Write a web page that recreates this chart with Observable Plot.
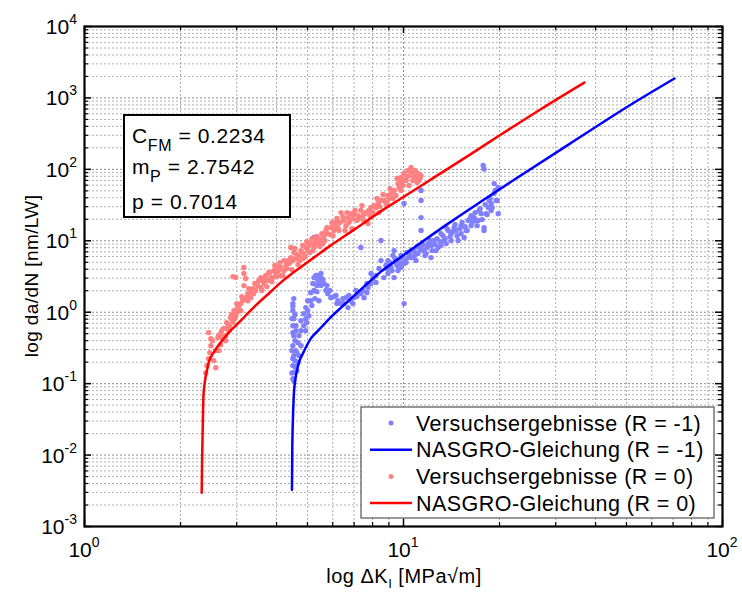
<!DOCTYPE html>
<html><head><meta charset="utf-8">
<script src="https://cdn.jsdelivr.net/npm/d3@7"></script>
<script src="https://cdn.jsdelivr.net/npm/@observablehq/plot@0.6"></script>
<style>body{margin:0;background:#fff;} svg{display:block}</style>
</head><body><div id="chart"></div>
<script>
// ---- tick labels ----
const xTickValues = [1, 10, 100];
const xTickExponents = ["0", "1", "2"];
const yTickValues = [1e-3, 1e-2, 1e-1, 1, 10, 100, 1000, 10000];
const yTickExponents = ["-3", "-2", "-1", "0", "1", "2", "3", "4"];
const minorMultipliers = [2, 3, 4, 5, 6, 7, 8, 9];

// ---- legend / annotation text ----
const legendLabels = ["Versuchsergebnisse (R = -1)", "NASGRO-Gleichung (R = -1)", "Versuchsergebnisse (R = 0)", "NASGRO-Gleichung (R = 0)"];
const paramNames = ["C", "m", "p"];
const paramSubs = ["FM", "P", ""];
const paramValues = ["0.2234", "2.7542", "0.7014"];

// ---- test results R = 0 (red) ----
const redX = [2.40,2.42,2.45,2.47,2.49,2.52,2.45,2.49,2.54,2.58,
  2.62,2.64,2.67,2.67,2.73,2.77,2.81,2.83,2.87,2.92,
  2.94,2.98,3.02,3.09,3.09,3.16,3.16,3.20,3.16,3.25,
  3.25,3.32,3.39,3.44,3.49,3.57,3.57,3.65,3.70,3.75,
  3.84,3.92,3.98,4.04,4.12,4.12,4.22,4.22,4.28,4.34,
  4.43,4.43,4.53,4.60,4.67,4.77,4.87,4.94,5.01,5.12,
  5.24,5.31,5.39,5.51,5.63,5.79,5.92,6.05,6.23,6.37,
  6.50,6.60,6.70,6.84,6.99,7.20,7.35,7.52,7.74,7.91,
  8.08,8.32,8.50,8.68,8.94,9.14,9.34,9.47,9.61,9.82,
  9.82,10.04,10.19,10.33,10.56,10.79,10.95,11.10,11.35,2.98,
  2.92,2.77,2.58,2.71,2.79,2.89,3.00,3.05,3.13,3.23,
  3.30,3.37,3.47,3.62,3.78,3.89,4.06,4.37,4.50,4.70,
  4.84,5.05,5.20,5.43,5.59,5.71,6.01,6.14,6.27,6.74,
  6.94,7.14,7.46,7.62,7.79,8.20,8.38,8.81,9.00,9.68,9.96,10.48,10.7,11.19];
const redY = [0.141,0.179,0.224,0.272,0.340,0.400,0.518,0.427,0.210,0.167,
  0.441,0.290,0.351,0.501,0.594,0.470,0.692,0.552,0.840,0.715,
  1.05,0.895,1.16,1.32,1.05,4.22,3.48,2.96,2.36,1.82,
  1.45,1.60,1.82,2.01,2.36,3.05,2.21,2.52,3.26,2.77,
  3.05,3.83,3.48,4.22,4.22,3.26,5.28,3.83,4.50,5.28,
  5.82,8.04,6.84,5.63,4.65,7.29,6.62,8.04,7.29,9.14,
  8.04,10.1,9.14,10.1,11.8,12.6,15.3,13.9,15.3,24.8,
  19.2,16.3,21.1,24.0,24.0,22.5,26.5,19.2,17.4,29.2,
  31.1,33.2,36.6,36.6,43.0,45.8,50.5,43.0,63.2,76.8,
  50.5,87.3,69.7,96.2,106,81.8,76.8,87.3,81.8,3.05,
  3.15,0.400,0.290,0.427,0.594,0.813,0.990,1.24,1.45,1.64,
  2.01,2.14,2.52,2.77,3.59,3.05,3.83,4.80,5.28,6.21,
  5.63,8.57,7.29,10.8,9.14,13.9,11.8,18.0,13.9,18.0,
  20.5,19.2,22.5,24.8,26.5,29.2,24.8,33.2,39.0,55.6,59.3,81.8,69.7,69.7];
const redBandX = [2.634,2.692,2.752,2.791,2.853,2.894,2.958,3.001,3.045,3.112,
  3.180,3.273,3.345,3.419,3.519,3.596,3.675,3.728,3.810,3.866,
  3.951,4.009,4.097,4.187,4.309,4.403,4.467,4.565,4.632,4.732,
  4.836,4.906,4.977,5.087,5.161,5.275,5.352,5.469,5.549,5.670,
  5.753,5.879,5.965,6.096,6.185,6.320,6.457,6.552,6.648,6.792,
  6.892,7.043,7.250,7.408,7.570,7.850,8.021,8.257,8.438,8.623,
  8.877,9.072,9.270,9.541,9.750,9.964,10.26,10.40,10.63,10.87,11.03,11.27];
const redBandY = [0.470,0.552,0.455,0.715,0.629,0.926,0.814,1.32,1.05,1.654,
  1.502,2.14,1.88,2.52,2.77,2.01,2.96,2.28,3.59,2.68,
  4.50,3.15,4.95,3.26,4.08,4.95,3.95,7.78,6.41,5.28,
  8.57,6.01,9.74,6.84,10.7,8.85,11.5,8.30,12.6,10.1,
  15.3,12.2,18.0,15.8,20.5,18.0,21.8,13.9,24.8,19.2,
  14.8,26.5,20.5,31.1,24.0,22.5,24.8,39.0,30.1,44.4,
  34.3,53.8,39.0,74.3,65.3,71.9,79.3,59.3,90.2,96.2,65.3,74.3];

// ---- test results R = -1 (blue) ----
const blueX = [4.50,4.53,4.50,4.57,4.53,4.60,4.50,4.57,4.53,4.60,
  4.50,4.53,4.50,4.50,4.53,4.63,4.67,4.63,4.67,4.70,
  4.70,4.77,4.77,4.77,4.87,4.87,4.94,5.01,5.01,5.12,
  5.12,5.20,5.24,5.24,5.31,5.39,5.39,5.51,5.51,5.63,
  5.71,5.79,5.92,5.24,6.23,6.37,6.50,6.70,6.84,6.99,
  7.20,7.35,7.52,7.74,7.91,7.91,7.35,8.50,8.50,8.68,
  8.94,8.94,9.14,9.34,9.34,9.61,9.61,9.82,10.04,10.04,
  10.04,10.33,10.56,10.79,10.79,11.10,11.35,11.35,11.35,11.35,
  11.35,11.59,11.94,12.20,12.47,12.83,13.11,13.40,13.80,14.10,
  14.41,14.83,15.15,15.49,15.94,16.29,16.65,17.14,17.51,17.89,
  17.89,18.42,18.83,19.24,19.24,19.81,18.83,17.77,17.89,19.81,
  8.81,9.47,9.82,10.19,10.56,10.95,11.77,12.20,12.65,13.60,
  14.10,14.62,15.15,15.71,16.29,16.89,17.27,18.16,18.56,19.52,
  13.11,8.20,8.38,7.09,6.60,6.14,5.43,4.94,7.68,9.27,5.51,5.35];
const blueY = [0.117,0.143,0.179,0.210,0.247,0.290,0.340,0.400,0.470,0.552,
  0.649,0.813,1.05,1.32,1.55,0.152,0.198,0.272,0.375,0.247,
  0.470,0.340,0.552,0.762,0.955,0.649,1.16,1.05,1.45,1.45,
  1.88,2.52,3.05,2.01,3.26,2.77,3.26,3.05,2.36,2.52,
  2.01,1.82,1.60,11.1,1.45,1.32,1.32,1.16,1.45,1.60,
  1.82,1.82,1.60,2.21,2.52,3.48,8.04,10.1,5.28,3.05,
  3.48,5.28,4.22,7.29,3.05,5.28,3.83,4.22,4.80,1.32,
  33.2,5.82,5.82,5.82,7.29,6.62,8.04,50.5,36.6,21.1,
  13.9,7.29,9.14,5.82,10.1,8.04,12.6,10.1,13.9,12.6,
  15.3,10.1,12.6,11.1,19.2,16.3,21.1,19.2,24.0,15.3,
  13.9,29.2,33.2,45.8,63.2,55.6,26.5,113,101,24.0,
  4.50,4.96,6.21,4.96,7.29,5.28,6.62,8.57,7.29,9.14,
  10.1,13.9,16.3,13.9,22.5,19.2,26.5,24.0,36.6,36.6,
  8.57,3.26,4.09,2.01,1.60,1.71,1.45,0.813,2.52,6.21,3.48,2.36];
const blueBandX = [8.877,9.072,9.204,9.404,9.541,9.750,9.892,10.11,10.26,10.48,
  10.63,10.87,11.03,11.27,11.51,11.68,11.85,12.11,12.29,12.56,
  12.74,13.02,13.30,13.50,13.70,14.00,14.30,14.51,14.72,15.04,
  15.26,15.60,15.83,16.18,16.41,16.77,17.01,17.39,17.64,18.03,
  18.29,18.69,18.96,19.38,19.66,
  4.94,4.977,5.05,5.161,5.275,5.352,5.43,5.59,5.753,5.879,
  6.05,6.185,6.457,6.74,6.94,7.14,7.46,7.68,8.021,8.20,
  4.47,4.50,4.47,4.50,4.47,4.50,4.57,4.60,4.57,4.53];
const blueBandY = [4.08,4.95,3.83,5.63,4.50,4.95,5.82,5.28,6.84,6.21,
  7.53,6.62,8.30,7.29,8.85,6.21,8.04,10.1,7.29,8.85,
  10.7,9.74,11.8,10.7,14.8,11.5,13.5,16.9,11.8,14.8,
  18.0,15.8,13.9,20.5,18.0,24.8,16.3,28.2,19.8,32.1,
  23.3,39.0,29.2,50.5,36.6,
  0.552,0.715,0.895,1.24,1.55,1.94,2.60,2.86,2.36,2.01,
  1.654,1.32,1.55,1.71,1.32,1.654,2.01,1.88,2.96,2.60,
  0.141,0.224,0.290,0.518,0.814,1.20,0.926,0.649,0.173,0.110];

// ---- NASGRO curves ----
const redCurveX = [2.33,2.34,2.35,2.36,2.38,2.40,2.43,2.45,2.49,2.54,2.60,2.67,2.77,2.87,2.98,3.09,3.29,3.49,3.80,4.12,4.42,4.77,5.30,5.92,6.60,7.36,8.50,9.82,12.2,16.3,20.2,27.0,36.9];
const redCurveY = [0.00297,0.0115,0.0303,0.068,0.100,0.129,0.165,0.197,0.235,0.272,0.320,0.375,0.460,0.552,0.650,0.762,1.02,1.32,1.86,2.60,3.35,4.30,6.05,8.62,12.0,16.6,26.0,39.0,72.4,165,307,701,1644];
const blueCurveX = [4.47,4.48,4.50,4.53,4.56,4.60,4.65,4.70,4.78,4.87,4.99,5.12,5.30,5.51,5.90,6.37,6.90,7.52,8.50,9.60,10.8,13.8,17.5,21.8,32.9,52.9,70.7];
const blueCurveY = [0.00327,0.0115,0.0303,0.068,0.098,0.129,0.163,0.197,0.238,0.281,0.350,0.427,0.510,0.608,0.840,1.16,1.60,2.28,3.70,5.50,8.04,17.4,35.4,67.5,222,862,1870];

// ---- build tables ----
const zip = (xs, ys) => xs.map((x, i) => ({x, y: ys[i]}));
const redPts = zip(redX, redY).concat(zip(redBandX, redBandY));
const bluePts = zip(blueX, blueY).concat(zip(blueBandX, blueBandY));
const redCurve = zip(redCurveX, redCurveY), blueCurve = zip(blueCurveX, blueCurveY);
const xMinor = xTickValues.slice(0, -1).flatMap(d => minorMultipliers.map(m => m * d));
const yMinor = yTickValues.slice(0, -1).flatMap(d => minorMultipliers.map(m => m * d));

const W = 742, H = 594, ML = 84, MR = 20, MT = 26, MB = 68;
const PW = W - ML - MR, PH = H - MT - MB;
const RED = "#ff0000", BLUE = "#0000ff", LRED = "#ff8080", LBLUE = "#8080ff";
const gridStyle = {stroke: "#9a9a9a", strokeDasharray: "2,2", strokeWidth: 0.8};

const chart = Plot.plot({
  width: W, height: H,
  marginLeft: ML, marginRight: MR, marginTop: MT, marginBottom: MB,
  x: {type: "log", domain: [1, 100], axis: null},
  y: {type: "log", domain: [1e-3, 1e4], axis: null},
  style: {background: "white", fontFamily: "'Liberation Sans', Arial, sans-serif"},
  marks: [
    Plot.ruleX(xMinor, gridStyle),
    Plot.ruleY(yMinor, gridStyle),
    Plot.ruleX(xTickValues, {...gridStyle, stroke: "#707070"}),
    Plot.ruleY(yTickValues, {...gridStyle, stroke: "#707070"}),
    Plot.dot(bluePts, {x: "x", y: "y", r: 2.7, fill: LBLUE, stroke: null}),
    Plot.line(blueCurve, {x: "x", y: "y", stroke: BLUE, strokeWidth: 2.5, curve: "monotone-x"}),
    Plot.dot(redPts, {x: "x", y: "y", r: 2.7, fill: LRED, stroke: null}),
    Plot.line(redCurve, {x: "x", y: "y", stroke: RED, strokeWidth: 2.5, curve: "monotone-x"}),
    // inward ticks on all four sides
    Plot.ruleX(xTickValues, {insetTop: PH - 7, stroke: "black", strokeWidth: 1.5}),
    Plot.ruleX(xTickValues, {insetBottom: PH - 7, stroke: "black", strokeWidth: 1.5}),
    Plot.ruleX(xMinor, {insetTop: PH - 4, stroke: "black", strokeWidth: 1.2}),
    Plot.ruleX(xMinor, {insetBottom: PH - 4, stroke: "black", strokeWidth: 1.2}),
    Plot.ruleY(yTickValues, {insetRight: PW - 7, stroke: "black", strokeWidth: 1.5}),
    Plot.ruleY(yTickValues, {insetLeft: PW - 7, stroke: "black", strokeWidth: 1.5}),
    Plot.ruleY(yMinor, {insetRight: PW - 4, stroke: "black", strokeWidth: 1.2}),
    Plot.ruleY(yMinor, {insetLeft: PW - 4, stroke: "black", strokeWidth: 1.2}),
    Plot.frame({stroke: "black", strokeWidth: 2.2})
  ]
});
document.getElementById("chart").appendChild(chart);

const sx = chart.scale("x"), sy = chart.scale("y");
const svg = d3.select(chart);
const FONT = "'Liberation Sans', Arial, sans-serif";
const g = svg.append("g").style("font-family", FONT).attr("fill", "black");

// y tick labels
yTickValues.forEach((v, i) => {
  const t = g.append("text").attr("x", 77).attr("y", sy.apply(v) + 8)
    .attr("text-anchor", "end").style("font-size", "21px");
  t.append("tspan").text("10");
  t.append("tspan").attr("dy", -10).style("font-size", "14px").text(yTickExponents[i]);
});
// x tick labels
xTickValues.forEach((v, i) => {
  const t = g.append("text").attr("x", sx.apply(v)).attr("y", 557)
    .attr("text-anchor", "middle").style("font-size", "21px");
  t.append("tspan").text("10");
  t.append("tspan").attr("dy", -10).style("font-size", "14px").text(xTickExponents[i]);
});

// axis titles
const xt = g.append("text").attr("x", 404).attr("y", 583)
  .attr("text-anchor", "middle").style("font-size", "20px").style("letter-spacing", "0.5px");
xt.append("tspan").text("log \u0394K");
xt.append("tspan").attr("dy", 5).style("font-size", "13px").text("I");
xt.append("tspan").attr("dy", -5).text(" [MPa\u221Am]");
g.append("text").attr("transform", `translate(38,${MT + PH / 2}) rotate(-90)`)
  .attr("text-anchor", "middle").style("font-size", "19px").style("letter-spacing", "0.4px")
  .text("log da/dN [nm/LW]");

// parameter box
g.append("rect").attr("x", 124).attr("y", 115).attr("width", 166).attr("height", 102)
  .attr("fill", "white").attr("stroke", "black").attr("stroke-width", 2);
const pBase = [143, 174, 209];
paramNames.forEach((n, i) => {
  const t = g.append("text").attr("x", 132).attr("y", pBase[i]).attr("text-anchor", "start")
    .style("font-size", "21px").style("letter-spacing", "0.6px");
  t.append("tspan").text(n);
  if (paramSubs[i]) {
    t.append("tspan").attr("dy", 8).style("font-size", "16px").text(paramSubs[i]);
    t.append("tspan").attr("dy", -8).style("font-size", "21px").text(" = " + paramValues[i]);
  } else {
    t.append("tspan").text(" = " + paramValues[i]);
  }
});

// legend
g.append("rect").attr("x", 361).attr("y", 407).attr("width", 353).attr("height", 111)
  .attr("fill", "white").attr("stroke", "#333").attr("stroke-width", 1);
const legendColors = [LBLUE, BLUE, LRED, RED];
const legendIsLine = [false, true, false, true];
legendLabels.forEach((lab, i) => {
  const cy = 423 + i * 26.7;
  if (legendIsLine[i]) {
    g.append("line").attr("x1", 370).attr("x2", 412).attr("y1", cy).attr("y2", cy)
      .attr("stroke", legendColors[i]).attr("stroke-width", 2.5);
  } else {
    g.append("circle").attr("cx", 391).attr("cy", cy).attr("r", 2.5).attr("fill", legendColors[i]);
  }
  g.append("text").attr("x", 416).attr("y", cy + 7.5).attr("text-anchor", "start")
    .style("font-size", "21.5px").style("letter-spacing", "0.45px").text(lab);
});
</script>
</body></html>
